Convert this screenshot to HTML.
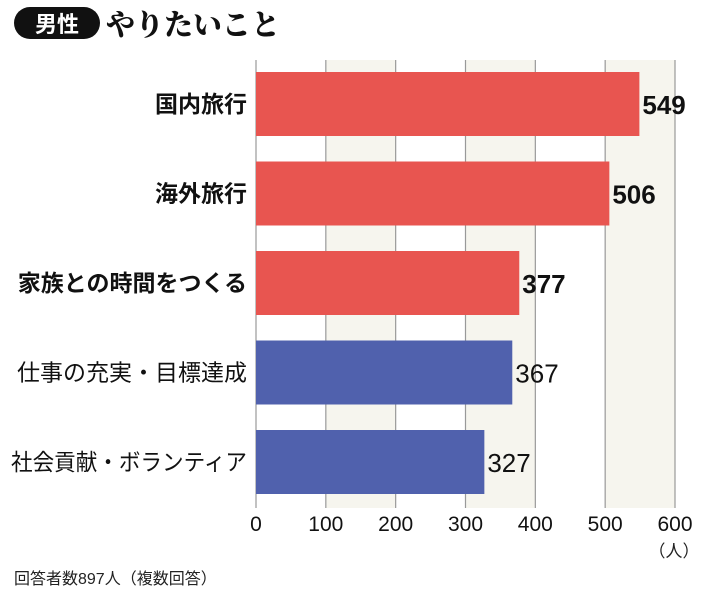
<!DOCTYPE html>
<html><head><meta charset="utf-8"><style>
body{margin:0;background:#fff;width:710px;height:597px;overflow:hidden;font-family:"Liberation Sans","Noto Sans CJK JP",sans-serif}
svg text{font-family:"Liberation Sans","Noto Sans CJK JP",sans-serif}
</style></head><body>
<svg width="710" height="597">
<rect x="14" y="7" width="86" height="32" rx="16" fill="#111"/>
<text x="57" y="32" font-size="22" font-weight="bold" fill="#fff" text-anchor="middle">男性</text>
<text x="106" y="35" font-size="29" font-weight="900" style="font-family:'Noto Serif CJK SC',serif" fill="#111">やりたいこと</text>
<g id="plot"></g>
<text x="674" y="557" font-size="17" text-anchor="middle" fill="#222">（人）</text>
<text x="14" y="584" font-size="16" fill="#222">回答者数897人（複数回答）</text>
</svg>
<script>
const categories=["国内旅行","海外旅行","家族との時間をつくる","仕事の充実・目標達成","社会貢献・ボランティア"];
const values=[549,506,377,367,327];
const highlight=[true,true,true,false,false];
const ticks=[0,100,200,300,400,500,600];
const x0=256,x1=675,maxV=600,yTop=60,yBot=508;
const xs=v=>x0+(x1-x0)*v/maxV;
const rowTop=72,rowStep=89.5,barH=64,maxLabelW=236;
const g=document.getElementById('plot');const NS='http://www.w3.org/2000/svg';
function mk(t,a){const e=document.createElementNS(NS,t);for(const k in a)e.setAttribute(k,a[k]);g.appendChild(e);return e;}
for(let i=0;i<ticks.length-1;i++){if(i%2==1){const r=mk('rect',{x:xs(ticks[i]),y:yTop,width:xs(ticks[i+1])-xs(ticks[i]),height:yBot-yTop,fill:'#f6f5ee'});

}}
ticks.forEach(t=>{const l=mk('line',{x1:xs(t),x2:xs(t),y1:yTop,y2:yBot,stroke:'#999','stroke-width':1.2});


const tx=mk('text',{x:xs(t),y:531,'font-size':21,'text-anchor':'middle',fill:'#111'});tx.textContent=t;

});
categories.forEach((c,i)=>{const y=rowTop+i*rowStep;
const b=mk('rect',{x:x0,y:y,width:xs(values[i])-x0,height:barH,fill:highlight[i]?'#e85550':'#5061ad'});


const lb=mk('text',{x:247,y:y+barH/2+8,'font-size':23,'text-anchor':'end',fill:'#111','font-weight':highlight[i]?'bold':'normal'});lb.textContent=c;


if(lb.getComputedTextLength()>maxLabelW){lb.setAttribute('textLength',maxLabelW);lb.setAttribute('lengthAdjust','spacingAndGlyphs');}
const v=mk('text',{x:xs(values[i])+3,y:y+barH/2+10,'font-size':26,fill:'#111','font-weight':highlight[i]?'bold':'normal'});v.textContent=values[i];

});
</script>
</body></html>
